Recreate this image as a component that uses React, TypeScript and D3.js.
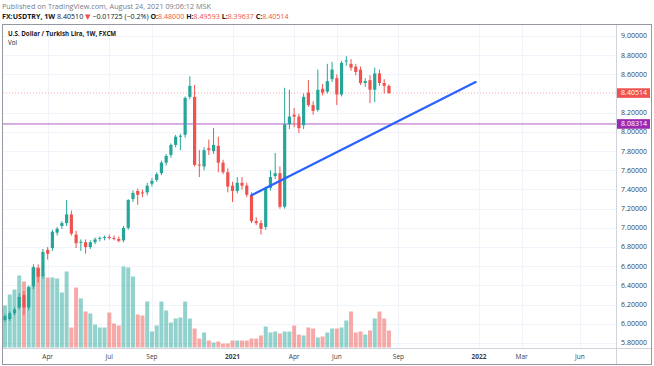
import React from "react";
import * as d3 from "d3";

// weekly FX:USDTRY candles, first bar = week of 2020-02-03
const firstWeek = new Date(Date.UTC(2020, 1, 3));

const opens = [
  6.04, 6.05, 6.11, 6.17, 6.3, 6.17, 6.39, 6.58, 6.5, 6.77,
  6.79, 6.95, 7.02, 7.05, 7.14, 6.93, 6.845, 6.85, 6.8, 6.85,
  6.885, 6.895, 6.905, 6.895, 6.885, 6.87, 7.0, 7.3, 7.385, 7.37,
  7.37, 7.46, 7.5, 7.57, 7.68, 7.76, 7.865, 7.95, 7.97, 8.365,
  8.365, 7.66, 7.64, 7.83, 7.8, 7.855, 7.68, 7.58, 7.44, 7.385,
  7.47, 7.44, 7.345, 7.07, 7.05, 7.01, 7.417, 7.54, 7.57, 7.22,
  8.08, 8.18, 8.16, 8.07, 8.41, 8.28, 8.23, 8.45, 8.42, 8.55,
  8.56, 8.39, 8.735, 8.71, 8.68, 8.65, 8.51, 8.54, 8.44, 8.61,
  8.51, 8.48,
];
const highs = [
  6.1, 6.13, 6.17, 6.32, 6.34, 6.4, 6.62, 6.62, 6.78, 6.8,
  6.98, 7.01, 7.07, 7.29, 7.18, 6.97, 6.88, 6.88, 6.87, 6.9,
  6.91, 6.92, 6.93, 6.92, 6.91, 7.02, 7.3, 7.39, 7.41, 7.4,
  7.47, 7.52, 7.58, 7.7, 7.77, 7.88, 7.97, 7.98, 8.37, 8.58,
  8.49, 7.81, 7.84, 7.92, 8.04, 7.95, 7.71, 7.62, 7.48, 7.53,
  7.53, 7.47, 7.37, 7.11, 7.08, 7.43, 7.6, 7.78, 7.64, 8.46,
  8.44, 8.25, 8.19, 8.4, 8.54, 8.32, 8.65, 8.5, 8.71, 8.73,
  8.6, 8.74, 8.79, 8.76, 8.71, 8.68, 8.56, 8.59, 8.67, 8.65,
  8.55, 8.49593,
];
const lows = [
  6.02, 6.03, 6.09, 6.15, 6.09, 6.14, 6.36, 6.43, 6.47, 6.67,
  6.76, 6.92, 6.99, 7.02, 6.92, 6.79, 6.76, 6.73, 6.78, 6.83,
  6.86, 6.87, 6.88, 6.87, 6.85, 6.85, 6.98, 7.27, 7.24, 7.32,
  7.34, 7.43, 7.48, 7.55, 7.65, 7.73, 7.84, 7.81, 7.94, 8.34,
  7.64, 7.53, 7.6, 7.76, 7.77, 7.58, 7.56, 7.37, 7.27, 7.36,
  7.4, 7.32, 7.05, 7.03, 6.93, 6.98, 7.39, 7.51, 7.2, 7.2,
  8.03, 8.05, 7.99, 8.03, 8.26, 8.18, 8.21, 8.38, 8.4, 8.52,
  8.28, 8.37, 8.69, 8.64, 8.59, 8.49, 8.47, 8.3, 8.31, 8.48,
  8.4, 8.39637,
];
const closes = [
  6.08, 6.11, 6.15, 6.28, 6.17, 6.38, 6.59, 6.49, 6.75, 6.73,
  6.96, 6.99, 7.05, 7.14, 6.94, 6.84, 6.855, 6.8, 6.85, 6.88,
  6.895, 6.905, 6.895, 6.885, 6.865, 7.0, 7.29, 7.365, 7.345, 7.36,
  7.44, 7.49, 7.56, 7.68, 7.75, 7.865, 7.95, 7.96, 8.355, 8.48,
  7.656, 7.65, 7.81, 7.81, 7.865, 7.68, 7.58, 7.43, 7.385, 7.47,
  7.44, 7.345, 7.07, 7.05, 6.99, 7.417, 7.53, 7.57, 7.22, 8.08,
  8.16, 8.16, 8.04, 8.365, 8.28, 8.22, 8.44, 8.41, 8.53, 8.65,
  8.39, 8.72, 8.745, 8.67, 8.625, 8.51, 8.53, 8.44, 8.61, 8.51,
  8.48, 8.40514,
];
const volumes = [
  42, 53, 58, 72, 66, 61, 80, 80, 73, 70,
  70, 69, 55, 76, 20, 60, 49, 36, 34, 23,
  20, 20, 35, 24, 22, 81, 80, 71, 33, 32,
  46, 16, 22, 46, 37, 25, 29, 30, 46, 29,
  19, 9, 15, 7, 5, 6, 4, 4, 7, 7,
  7, 7, 9, 9, 12, 21, 15, 16, 14, 16,
  16, 22, 13, 12, 20, 19, 10, 11, 15, 19,
  19, 20, 27, 36, 15, 16, 13, 17, 29, 36,
  29, 17,
];

const priceTicks = [5.8, 6.0, 6.2, 6.4, 6.6, 6.8, 7.0, 7.2, 7.4, 7.6, 7.8, 8.0, 8.2, 8.6, 8.8, 9.0];
const tickDates = [
  "2020-04-06", "2020-07-06", "2020-09-07", "2021-01-04", "2021-04-05",
  "2021-06-07", "2021-09-06", "2022-01-03", "2022-03-07", "2022-06-01",
];
const tickLabels = ["Apr", "Jul", "Sep", "2021", "Apr", "Jun", "Sep", "2022", "Mar", "Jun"];

const lastPrice = 8.40514;
const levelPrice = 8.08314;
const trendDates = ["2021-02-01", "2021-12-29"];
const trendPrices = [7.34, 8.52];

const W = 654;
const H = 366;
const left = 3;
const right = 616;
const top = 25;
const bottom = 348;

const UP = "#26a69a";
const DOWN = "#ef5350";
const font = "'Open Sans', 'DejaVu Sans', sans-serif";

export default function App() {
  const x = d3
    .scaleUtc()
    .domain([firstWeek, new Date(Date.UTC(2022, 5, 6))])
    .range([5, 583.3]);
  const y = d3.scaleLinear().domain([5.8, 9]).range([343, 36]);
  const v = d3.scaleLinear().domain([0, 100]).range([bottom - 0.5, bottom - 100.5]);
  const fmt = d3.format(".5f");

  const bars = closes.map((c, i) => ({
    date: d3.utcDay.offset(firstWeek, 7 * i),
    o: opens[i],
    h: highs[i],
    l: lows[i],
    c,
    vol: volumes[i],
    up: c >= opens[i],
  }));

  const trend = d3
    .line<number>()
    .x((_, i) => x(new Date(trendDates[i])))
    .y((p) => y(p));

  return (
    <svg
      width={W}
      height={H}
      style={{ position: "absolute", left: 0, top: 0, background: "#fff" }}
      fontFamily={font}
    >
      <defs>
        <clipPath id="plot">
          <rect x={left} y={top} width={right - left} height={bottom - top} />
        </clipPath>
      </defs>
      <rect width={W} height={H} fill="#fff" />

      {/* header */}
      <text x={2} y={9} fontSize={7.25} fill="#787b86">
        Published on TradingView.com, August 24, 2021 09:06:12 MSK
      </text>
      <text x={2} y={19} fontSize={7.1} fill="#131722">
        <tspan fontWeight="bold">FX:USDTRY, 1W</tspan>
        <tspan> 8.40510 </tspan>
        <tspan fill={DOWN}>▼</tspan>
        <tspan> −0.01725 (−0.2%) </tspan>
        <tspan fontWeight="bold">O:</tspan>
        <tspan fill={DOWN}>8.48000 </tspan>
        <tspan fontWeight="bold">H:</tspan>
        <tspan fill={DOWN}>8.49593 </tspan>
        <tspan fontWeight="bold">L:</tspan>
        <tspan fill={DOWN}>8.39637 </tspan>
        <tspan fontWeight="bold">C:</tspan>
        <tspan fill={DOWN}>8.40514</tspan>
      </text>

      {/* grid */}
      <g stroke="#f0f3fa" strokeWidth={1}>
        {priceTicks.map((p) => (
          <line key={p} x1={left} x2={right} y1={Math.round(y(p)) + 0.5} y2={Math.round(y(p)) + 0.5} />
        ))}
        {tickDates.map((d) => (
          <line
            key={d}
            x1={Math.round(x(new Date(d))) + 0.5}
            x2={Math.round(x(new Date(d))) + 0.5}
            y1={top}
            y2={bottom}
          />
        ))}
      </g>

      <g clipPath="url(#plot)">
        {/* volume */}
        {bars.map((b, i) => (
          <rect
            key={"v" + i}
            x={x(b.date) - 2}
            y={v(b.vol)}
            width={4}
            height={v(0) - v(b.vol)}
            fill={b.up ? UP : DOWN}
            fillOpacity={0.5}
          />
        ))}

        {/* price lines */}
        <line
          x1={left}
          x2={right}
          y1={y(lastPrice)}
          y2={y(lastPrice)}
          stroke={DOWN}
          strokeOpacity={0.45}
          strokeDasharray="1,2"
        />
        <line
          x1={left}
          x2={right}
          y1={y(levelPrice)}
          y2={y(levelPrice)}
          stroke="#9c27b0"
          strokeOpacity={0.75}
          strokeWidth={1}
        />

        {/* candles */}
        {bars.map((b, i) => {
          const cx = x(b.date);
          const col = b.up ? UP : DOWN;
          const yt = y(Math.max(b.o, b.c));
          const yb = y(Math.min(b.o, b.c));
          return (
            <g key={"c" + i}>
              <line x1={cx} x2={cx} y1={y(b.h)} y2={y(b.l)} stroke={col} strokeWidth={1} />
              <rect x={cx - 1.6} y={yt} width={3.2} height={Math.max(1, yb - yt)} fill={col} />
            </g>
          );
        })}

        <path
          d={trend(trendPrices) || ""}
          fill="none"
          stroke="#2962ff"
          strokeWidth={2.2}
          strokeLinecap="round"
        />
      </g>

      <text x={8} y={36} fontSize={6.2} fontWeight="bold" fill="#131722">
        U.S. Dollar / Turkish Lira, 1W, FXCM
      </text>
      <text x={8} y={45} fontSize={6.2} fill="#131722">
        Vol
      </text>

      {/* frame */}
      <rect x={2.5} y={24.5} width={649} height={340} fill="none" stroke="#9598a1" strokeWidth={1} />
      <line x1={right + 0.5} x2={right + 0.5} y1={top} y2={364} stroke="#d1d4dc" />
      <line x1={left} x2={651} y1={bottom + 0.5} y2={bottom + 0.5} stroke="#d1d4dc" />

      {/* price axis */}
      <g fontSize={7} fill="#3b3e48" textAnchor="middle">
        {priceTicks.map((p) => (
          <text key={p} x={634} y={y(p) + 2.4}>
            {fmt(p)}
          </text>
        ))}
      </g>
      {[
        { p: lastPrice, c: DOWN },
        { p: levelPrice, c: "#9c27b0" },
      ].map((m) => (
        <g key={m.p}>
          <rect x={617} y={y(m.p) - 4.8} width={33} height={9.6} fill={m.c} />
          <text x={634} y={y(m.p) + 2.4} fontSize={7} fill="#fff" textAnchor="middle">
            {fmt(m.p)}
          </text>
        </g>
      ))}

      {/* time axis */}
      <g fontSize={6.5} fill="#3b3e48" textAnchor="middle">
        {tickDates.map((d, i) => (
          <text
            key={d}
            x={x(new Date(d))}
            y={359}
            fontWeight={/^\d+$/.test(tickLabels[i]) ? "bold" : "normal"}
          >
            {tickLabels[i]}
          </text>
        ))}
      </g>
    </svg>
  );
}
